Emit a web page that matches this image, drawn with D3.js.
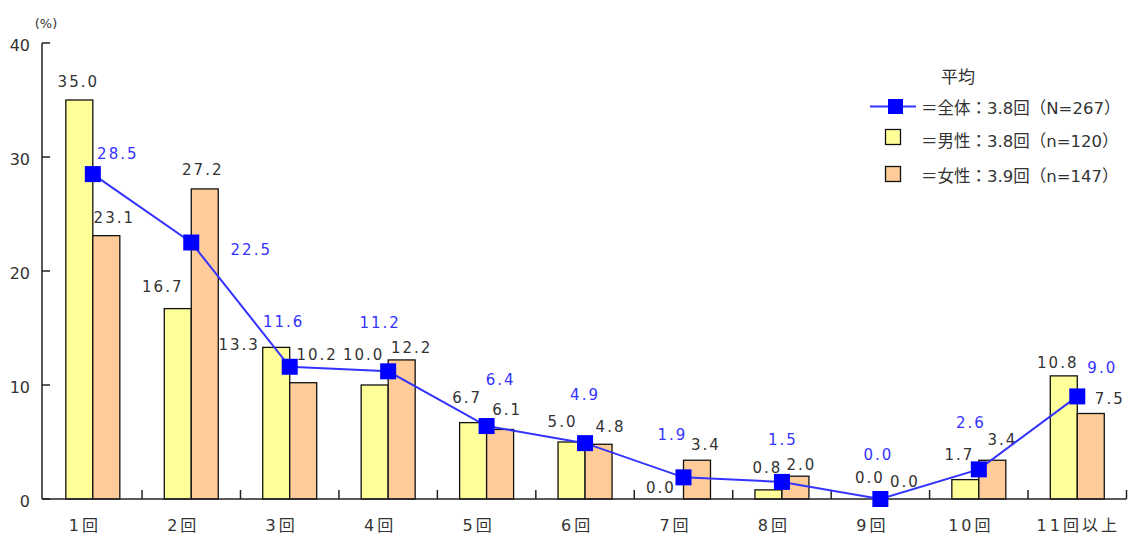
<!DOCTYPE html>
<html><head><meta charset="utf-8">
<script src="https://cdn.jsdelivr.net/npm/d3@7"></script>
<style>
body{margin:0;background:#fff;}
text{font-family:"DejaVu Sans","Noto Sans CJK JP",sans-serif;}
</style></head>
<body><svg id="c" width="1131" height="536"></svg>
<script>
const categories = ["1回","2回","3回","4回","5回","6回","7回","8回","9回","10回","11回以上"];
const male   = [35.0,16.7,13.3,10.0,6.7,5.0,0.0,0.8,0.0,1.7,10.8];
const female = [23.1,27.2,10.2,12.2,6.1,4.8,3.4,2.0,0.0,3.4,7.5];
const total  = [28.5,22.5,11.6,11.2,6.4,4.9,1.9,1.5,0.0,2.6,9.0];
const yTicks = [0,10,20,30,40];
const legendTitle = "平均";
const legendLabels = ["＝全体：3.8回（N=267）","＝男性：3.8回（n=120）","＝女性：3.9回（n=147）"];

// label placement offsets (dx from mark centre, dy of baseline from bar top / marker centre)
const maleOff   = [[-1,-13],[-15,-17],[-37,3],[-11,-25],[-6,-20],[-9,-15],[-9,-6],[-1,-17],[3,-16],[-6,-20],[-6,-8]];
const femaleOff = [[8,-13],[-2,-14],[14,-23],[10,-7],[7,-14],[12,-12],[9,-10],[6,-6],[11,-12],[10,-15],[19,-10]];
const avgOff    = [[25,-15],[60,12],[-6,-40],[-8,-43],[14,-41],[0,-43],[-11,-37],[1,-37],[-2,-39],[-8,-41],[25,-23]];

const svg = d3.select("#c");
const y = d3.scaleLinear().domain([0,40]).range([499,43]);
const x0 = d3.scaleBand().domain(categories).range([43.6,1126.5]).padding(0);
const bw = 27;
const x1 = d3.scaleBand().domain(["m","f"]).range([x0.bandwidth()/2-bw, x0.bandwidth()/2+bw]);

const numFont = 15;
const axisColor = "#222";
const textColor = "#333";

// y axis
svg.append("line").attr("x1",42).attr("x2",42).attr("y1",y(40)).attr("y2",y(0)).attr("stroke",axisColor).attr("stroke-width",1.5);
yTicks.forEach(t=>{
  svg.append("line").attr("x1",42).attr("x2",50).attr("y1",y(t)).attr("y2",y(t)).attr("stroke",axisColor).attr("stroke-width",1.5);
  svg.append("text").attr("x",30).attr("y",y(t)+8).attr("text-anchor","end").attr("font-size",16).attr("fill",textColor).text(t);
});
svg.append("text").attr("x",46).attr("y",28).attr("text-anchor","middle").attr("font-size",13).attr("fill",textColor).text("(%)");

// bars
const g = svg.append("g");
categories.forEach((c,i)=>{
  const gx = x0(c);
  g.append("rect").attr("x",gx+x1("m")).attr("y",y(male[i])).attr("width",x1.bandwidth()).attr("height",y(0)-y(male[i]))
    .attr("fill","#FFFF99").attr("stroke","#111").attr("stroke-width",1.3);
  g.append("rect").attr("x",gx+x1("f")).attr("y",y(female[i])).attr("width",x1.bandwidth()).attr("height",y(0)-y(female[i]))
    .attr("fill","#FFCC99").attr("stroke","#111").attr("stroke-width",1.3);
});

// x axis
svg.append("line").attr("x1",42).attr("x2",1126.5).attr("y1",y(0)).attr("y2",y(0)).attr("stroke",axisColor).attr("stroke-width",1.5);
categories.forEach((c,i)=>{
  const bx = x0(c)+x0.bandwidth();
  svg.append("line").attr("x1",bx).attr("x2",bx).attr("y1",y(0)).attr("y2",y(0)-9).attr("stroke",axisColor).attr("stroke-width",1.5);
  const shift = c.length>3 ? 1 : -8;
  svg.append("text").attr("x",x0(c)+x0.bandwidth()/2+shift).attr("y",531).attr("text-anchor","middle").attr("font-size",16)
    .attr("letter-spacing",3).attr("fill",textColor).text(c);
});

// bar labels
categories.forEach((c,i)=>{
  const gx = x0(c);
  const mx = gx+x1("m")+bw/2, fx = gx+x1("f")+bw/2;
  svg.append("text").attr("x",mx+maleOff[i][0]).attr("y",y(male[i])+maleOff[i][1]).attr("text-anchor","middle")
    .attr("font-size",numFont).attr("letter-spacing",2).attr("fill",textColor).text(male[i].toFixed(1));
  svg.append("text").attr("x",fx+femaleOff[i][0]).attr("y",y(female[i])+femaleOff[i][1]).attr("text-anchor","middle")
    .attr("font-size",numFont).attr("letter-spacing",2).attr("fill",textColor).text(female[i].toFixed(1));
});

// line
const cx = c => x0(c)+x0.bandwidth()/2;
const line = d3.line().x((d,i)=>cx(categories[i])).y(d=>y(d));
svg.append("path").datum(total).attr("d",line).attr("fill","none").attr("stroke","#3333FF").attr("stroke-width",2);
svg.selectAll(".mk").data(total).enter().append("rect")
  .attr("x",(d,i)=>cx(categories[i])-8).attr("y",d=>y(d)-8).attr("width",16).attr("height",16).attr("fill","#0000FF");
total.forEach((v,i)=>{
  svg.append("text").attr("x",cx(categories[i])+avgOff[i][0]).attr("y",y(v)+avgOff[i][1]).attr("text-anchor","middle")
    .attr("font-size",numFont).attr("letter-spacing",2).attr("fill","#3333FF").text(v.toFixed(1));
});

// legend
svg.append("text").attr("x",958).attr("y",83).attr("text-anchor","middle").attr("font-size",17).attr("font-family","Noto Sans CJK JP").attr("fill",textColor).text(legendTitle);
svg.append("line").attr("x1",870).attr("x2",916).attr("y1",106.5).attr("y2",106.5).attr("stroke","#3333FF").attr("stroke-width",2);
svg.append("rect").attr("x",888).attr("y",99).attr("width",15).attr("height",15).attr("fill","#0000FF");
svg.append("rect").attr("x",885.5).attr("y",129.5).attr("width",15).attr("height",15).attr("fill","#FFFF99").attr("stroke","#111").attr("stroke-width",1.3);
svg.append("rect").attr("x",885.5).attr("y",166.5).attr("width",15).attr("height",15).attr("fill","#FFCC99").attr("stroke","#111").attr("stroke-width",1.3);
[114,147,182].forEach((yy,i)=>{
  svg.append("text").attr("x",921).attr("y",yy).attr("font-size",16.5).attr("font-family","Noto Sans CJK JP").attr("fill",textColor).text(legendLabels[i]);
});
</script></body></html>
